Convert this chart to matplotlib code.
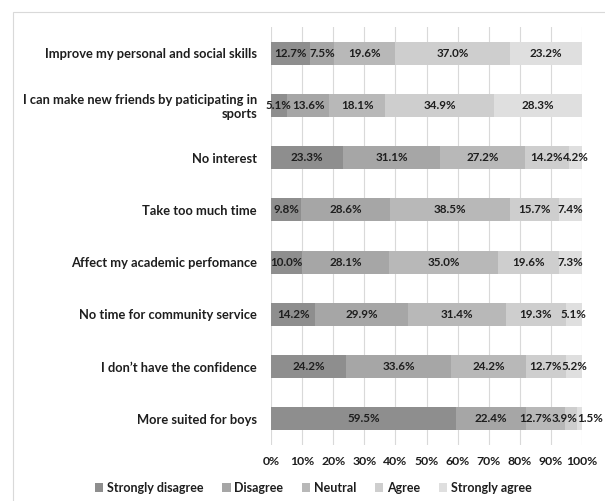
import matplotlib
matplotlib.use("Agg")
import matplotlib.pyplot as plt
import numpy as np
from matplotlib.patches import Rectangle

# DATA
categories = [
    "Improve my personal and social skills",
    "I can make new friends by paticipating in\nsports",
    "No interest",
    "Take too much time",
    "Affect my academic perfomance",
    "No time for community service",
    "I don\u2019t have the confidence",
    "More suited for boys",
]
series = ["Strongly disagree", "Disagree", "Neutral", "Agree", "Strongly agree"]
strongly_disagree = [12.7, 5.1, 23.3, 9.8, 10.0, 14.2, 24.2, 59.5]
disagree = [7.5, 13.6, 31.1, 28.6, 28.1, 29.9, 33.6, 22.4]
neutral = [19.6, 18.1, 27.2, 38.5, 35.0, 31.4, 24.2, 12.7]
agree = [37.0, 34.9, 14.2, 15.7, 19.6, 19.3, 12.7, 3.9]
strongly_agree = [23.2, 28.3, 4.2, 7.4, 7.3, 5.1, 5.2, 1.5]
xticks = [0, 10, 20, 30, 40, 50, 60, 70, 80, 90, 100]

colors = ["#8e8e8e", "#a6a6a6", "#b8b8b8", "#cecece", "#dfdfdf"]
values = [strongly_disagree, disagree, neutral, agree, strongly_agree]

plt.rcParams['font.family'] = ['Lato', 'DejaVu Sans']
TXT = "#1e1e1e"

fig = plt.figure(figsize=(6.05, 5.01), dpi=100)
ax = fig.add_axes([271 / 605, 1 - 445 / 501, (582 - 271) / 605, (445 - 27) / 501])

y = np.arange(len(categories))
left = np.zeros(len(categories))
for name, vals, col in zip(series, values, colors):
    vals = np.array(vals)
    ax.barh(y, vals, left=left, height=0.44, color=col, label=name, zorder=2)
    left = left + vals

ax.set_xlim(0, 100)
ax.set_ylim(7.5, -0.5)

# value labels, nudged apart when they would collide
fig.canvas.draw()
renderer = fig.canvas.get_renderer()
max_right = fig.bbox.width - 2
for i in range(len(categories)):
    start = 0.0
    labels = []
    for vals in values:
        v = vals[i]
        t = ax.text(start + v / 2, i, f"{v:.1f}%", ha='center', va='center', fontsize=8.4,
                    fontweight='bold', color=TXT, zorder=3)
        labels.append(t)
        start += v
    # pixel centres and widths
    cen = [ax.transData.transform((t.get_position()[0], 0))[0] for t in labels]
    wid = [t.get_window_extent(renderer).width for t in labels]
    for k in range(1, len(labels)):
        lo = cen[k - 1] + wid[k - 1] / 2 + wid[k] / 2
        cen[k] = max(cen[k], lo)
    cen[-1] = min(cen[-1], max_right - wid[-1] / 2)
    for k in range(len(labels) - 2, -1, -1):
        hi = cen[k + 1] - wid[k + 1] / 2 - wid[k] / 2
        cen[k] = min(cen[k], hi)
    for t, c in zip(labels, cen):
        t.set_x(ax.transData.inverted().transform((c, 0))[0])

ax.set_xticks(xticks)
ax.set_xticklabels([f"{t}%" for t in xticks], fontsize=8.8, fontweight='bold', color=TXT)
ax.set_yticks(y)
ax.set_yticklabels(categories, fontsize=9.3, fontweight='bold', color=TXT)
ax.tick_params(axis='both', length=0)
ax.tick_params(axis='x', pad=8)
ax.tick_params(axis='y', pad=10)
ax.xaxis.grid(True, color="#d9d9d9", linewidth=0.8, zorder=0)
ax.set_axisbelow(True)
for spine in ax.spines.values():
    spine.set_visible(False)

leg = fig.legend(loc='center', bbox_to_anchor=(0.518, 1 - 488 / 501), ncol=5, frameon=False,
                 fontsize=9, handlelength=0.65, handleheight=0.65, handletextpad=0.3,
                 columnspacing=1.5, borderaxespad=0)
for t in leg.get_texts():
    t.set_fontweight('bold')
    t.set_color(TXT)

# outer chart frame
fig.patches.append(Rectangle((13 / 605, -0.02), 1.0, 1 - 12 / 501 + 0.02, transform=fig.transFigure,
                             fill=False, edgecolor="#d9d9d9", linewidth=0.8))

fig.savefig("out.png", dpi=100)
